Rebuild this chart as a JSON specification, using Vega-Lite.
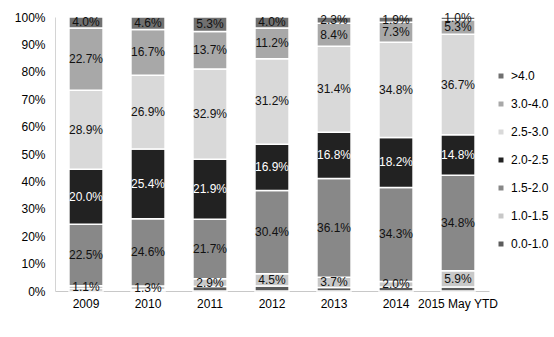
{
  "$schema": "https://vega.github.io/schema/vega-lite/v6.json",
  "autosize": "none",
  "width": 434,
  "height": 274,
  "padding": {"left": 55, "top": 17, "right": 65, "bottom": 46},
  "background": "white",
  "config": {"view": {"stroke": null}, "font": "Liberation Sans"},
  "data": {"values": [
    {"year": "2009", "cat": "0.0-1.0", "k": 1, "v": 0.008},
    {"year": "2009", "cat": "1.0-1.5", "k": 2, "v": 0.011},
    {"year": "2009", "cat": "1.5-2.0", "k": 3, "v": 0.225},
    {"year": "2009", "cat": "2.0-2.5", "k": 4, "v": 0.200},
    {"year": "2009", "cat": "2.5-3.0", "k": 5, "v": 0.289},
    {"year": "2009", "cat": "3.0-4.0", "k": 6, "v": 0.227},
    {"year": "2009", "cat": ">4.0", "k": 7, "v": 0.040},
    {"year": "2010", "cat": "0.0-1.0", "k": 1, "v": 0.005},
    {"year": "2010", "cat": "1.0-1.5", "k": 2, "v": 0.013},
    {"year": "2010", "cat": "1.5-2.0", "k": 3, "v": 0.246},
    {"year": "2010", "cat": "2.0-2.5", "k": 4, "v": 0.254},
    {"year": "2010", "cat": "2.5-3.0", "k": 5, "v": 0.269},
    {"year": "2010", "cat": "3.0-4.0", "k": 6, "v": 0.167},
    {"year": "2010", "cat": ">4.0", "k": 7, "v": 0.046},
    {"year": "2011", "cat": "0.0-1.0", "k": 1, "v": 0.016},
    {"year": "2011", "cat": "1.0-1.5", "k": 2, "v": 0.029},
    {"year": "2011", "cat": "1.5-2.0", "k": 3, "v": 0.217},
    {"year": "2011", "cat": "2.0-2.5", "k": 4, "v": 0.219},
    {"year": "2011", "cat": "2.5-3.0", "k": 5, "v": 0.329},
    {"year": "2011", "cat": "3.0-4.0", "k": 6, "v": 0.137},
    {"year": "2011", "cat": ">4.0", "k": 7, "v": 0.053},
    {"year": "2012", "cat": "0.0-1.0", "k": 1, "v": 0.018},
    {"year": "2012", "cat": "1.0-1.5", "k": 2, "v": 0.045},
    {"year": "2012", "cat": "1.5-2.0", "k": 3, "v": 0.304},
    {"year": "2012", "cat": "2.0-2.5", "k": 4, "v": 0.169},
    {"year": "2012", "cat": "2.5-3.0", "k": 5, "v": 0.312},
    {"year": "2012", "cat": "3.0-4.0", "k": 6, "v": 0.112},
    {"year": "2012", "cat": ">4.0", "k": 7, "v": 0.040},
    {"year": "2013", "cat": "0.0-1.0", "k": 1, "v": 0.013},
    {"year": "2013", "cat": "1.0-1.5", "k": 2, "v": 0.037},
    {"year": "2013", "cat": "1.5-2.0", "k": 3, "v": 0.361},
    {"year": "2013", "cat": "2.0-2.5", "k": 4, "v": 0.168},
    {"year": "2013", "cat": "2.5-3.0", "k": 5, "v": 0.314},
    {"year": "2013", "cat": "3.0-4.0", "k": 6, "v": 0.084},
    {"year": "2013", "cat": ">4.0", "k": 7, "v": 0.023},
    {"year": "2014", "cat": "0.0-1.0", "k": 1, "v": 0.015},
    {"year": "2014", "cat": "1.0-1.5", "k": 2, "v": 0.020},
    {"year": "2014", "cat": "1.5-2.0", "k": 3, "v": 0.343},
    {"year": "2014", "cat": "2.0-2.5", "k": 4, "v": 0.182},
    {"year": "2014", "cat": "2.5-3.0", "k": 5, "v": 0.348},
    {"year": "2014", "cat": "3.0-4.0", "k": 6, "v": 0.073},
    {"year": "2014", "cat": ">4.0", "k": 7, "v": 0.019},
    {"year": "2015 May YTD", "cat": "0.0-1.0", "k": 1, "v": 0.015},
    {"year": "2015 May YTD", "cat": "1.0-1.5", "k": 2, "v": 0.059},
    {"year": "2015 May YTD", "cat": "1.5-2.0", "k": 3, "v": 0.348},
    {"year": "2015 May YTD", "cat": "2.0-2.5", "k": 4, "v": 0.148},
    {"year": "2015 May YTD", "cat": "2.5-3.0", "k": 5, "v": 0.367},
    {"year": "2015 May YTD", "cat": "3.0-4.0", "k": 6, "v": 0.053},
    {"year": "2015 May YTD", "cat": ">4.0", "k": 7, "v": 0.010}
  ]},
  "transform": [
    {"stack": "v", "groupby": ["year"], "sort": [{"field": "k", "order": "ascending"}], "as": ["y0", "y1"]},
    {"calculate": "(datum.y0 + datum.y1) / 2", "as": "ym"}
  ],
  "encoding": {
    "x": {
      "field": "year", "type": "nominal",
      "scale": {"paddingInner": 0.45, "paddingOuter": 0.225},
      "axis": {"title": null, "labelAngle": 0, "ticks": false, "domainColor": "#c8c8c8", "labelFontSize": 12, "labelColor": "#000000", "labelPadding": 7}
    }
  },
  "layer": [
    {
      "mark": {"type": "bar", "stroke": "white", "strokeWidth": 1.5},
      "encoding": {
        "y": {
          "field": "y0", "type": "quantitative",
          "scale": {"domain": [0, 1], "nice": false},
          "axis": {"title": null, "format": ".0%", "tickCount": 10, "ticks": false, "grid": false, "domainColor": "#d4d4d4", "labelFontSize": 12, "labelColor": "#000000", "labelPadding": 10}
        },
        "y2": {"field": "y1"},
        "color": {
          "field": "cat", "type": "nominal",
          "scale": {
            "domain": [">4.0", "3.0-4.0", "2.5-3.0", "2.0-2.5", "1.5-2.0", "1.0-1.5", "0.0-1.0"],
            "range": ["#707070", "#a8a8a8", "#d9d9d9", "#222222", "#888888", "#c8c8c8", "#5c5c5c"]
          },
          "legend": {
            "title": null, "orient": "none", "legendX": 440, "legendY": 53,
            "symbolType": "square", "symbolSize": 25, "symbolStrokeWidth": 0,
            "labelFontSize": 12, "labelColor": "#000000", "labelOffset": 4,
            "rowPadding": 16, "padding": 0
          }
        }
      }
    },
    {
      "transform": [{"filter": "datum.cat !== '0.0-1.0'"}],
      "mark": {"type": "text", "fontSize": 12, "baseline": "middle"},
      "encoding": {
        "y": {"field": "ym", "type": "quantitative"},
        "text": {"field": "v", "type": "quantitative", "format": ".1%"},
        "color": {
          "condition": {"test": "datum.cat === '2.0-2.5'", "value": "#ffffff"},
          "value": "#111111"
        }
      }
    }
  ]
}
